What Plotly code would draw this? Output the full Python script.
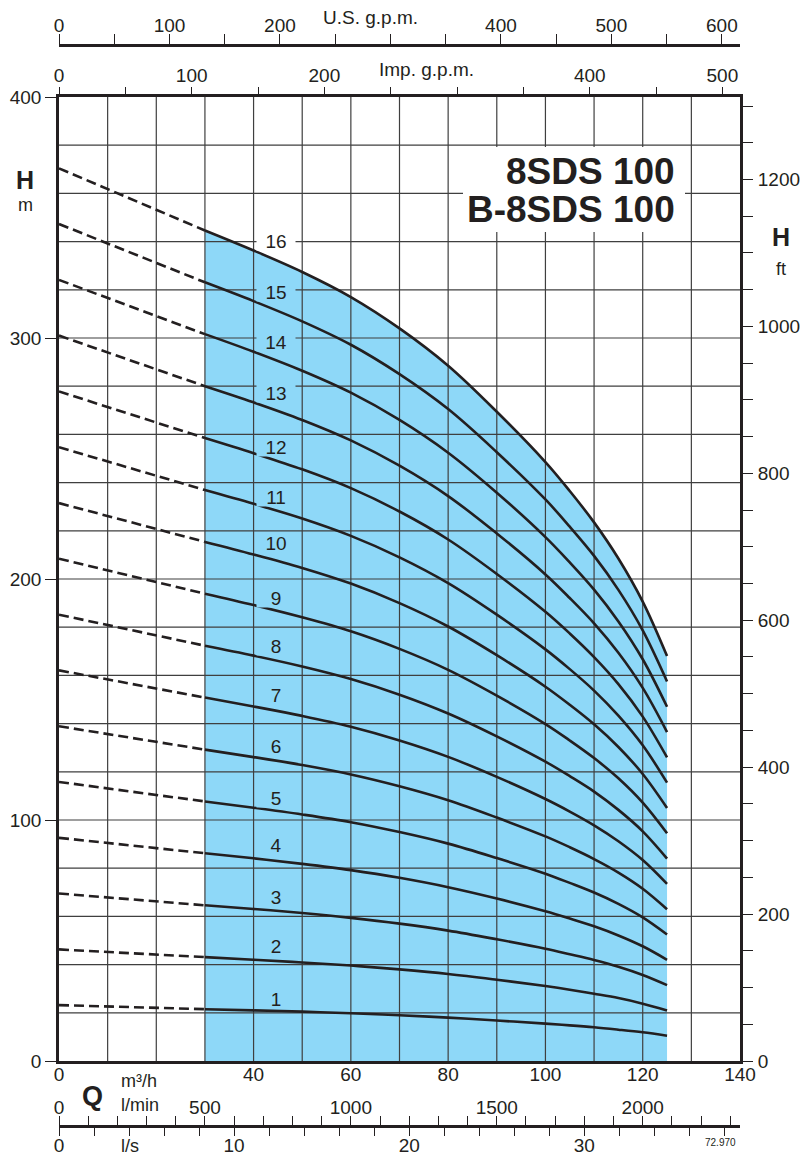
import plotly.graph_objects as go

# ---------------- data ----------------
Q_dash = [0, 30]                                   # m3/h, dashed part
Q_solid = [30, 40, 50, 60, 70, 80, 90, 100, 105, 110, 115, 120, 125]  # m3/h, solid part
stage_names = ["1", "2", "3", "4", "5", "6", "7", "8", "9", "10", "11", "12", "13", "14", "15", "16"]
H_shutoff = [23.2, 46.3, 69.5, 92.6, 115.8, 138.9, 162.1, 185.2, 208.4, 231.5,
             254.7, 277.8, 301.0, 324.1, 347.3, 370.4]   # H at Q = 0

H1 = [21.5, 21.0, 20.5, 19.8, 19.0, 18.0, 16.8, 15.5, 14.8, 14.0, 13.0, 11.9, 10.5]
H2 = [43.1, 42.0, 40.9, 39.6, 38.0, 36.1, 33.7, 31.1, 29.6, 27.9, 26.1, 23.8, 21.0]
H3 = [64.6, 63.1, 61.4, 59.4, 57.0, 54.1, 50.5, 46.6, 44.3, 41.9, 39.1, 35.7, 31.5]
H4 = [86.2, 84.1, 81.8, 79.2, 76.0, 72.1, 67.4, 62.1, 59.1, 55.9, 52.1, 47.6, 42.0]
H5 = [107.7, 105.1, 102.3, 99.1, 95.0, 90.2, 84.2, 77.7, 73.9, 69.9, 65.2, 59.6, 52.5]
H6 = [129.2, 126.1, 122.8, 118.9, 114.0, 108.2, 101.0, 93.2, 88.7, 83.8, 78.2, 71.5, 63.0]
H7 = [150.8, 147.1, 143.2, 138.7, 133.0, 126.2, 117.9, 108.7, 103.5, 97.8, 91.2, 83.4, 73.5]
H8 = [172.3, 168.2, 163.7, 158.5, 152.0, 144.2, 134.7, 124.2, 118.2, 111.8, 104.2, 95.3, 84.0]
H9 = [193.9, 189.2, 184.1, 178.3, 171.0, 162.3, 151.6, 139.8, 133.0, 125.7, 117.3, 107.2, 94.5]
H10 = [215.4, 210.2, 204.6, 198.1, 190.0, 180.3, 168.4, 155.3, 147.8, 139.7, 130.3, 119.1, 105.0]
H11 = [236.9, 231.2, 225.1, 217.9, 209.0, 198.3, 185.2, 170.8, 162.6, 153.7, 143.3, 131.0, 115.5]
H12 = [258.5, 252.2, 245.5, 237.7, 228.0, 216.4, 202.1, 186.4, 177.4, 167.6, 156.4, 142.9, 126.0]
H13 = [280.0, 273.3, 266.0, 257.5, 247.0, 234.4, 218.9, 201.9, 192.1, 181.6, 169.4, 154.8, 136.5]
H14 = [301.6, 294.3, 286.4, 277.3, 266.0, 252.4, 235.8, 217.4, 206.9, 195.6, 182.4, 166.7, 147.0]
H15 = [323.1, 315.3, 306.9, 297.2, 285.0, 270.5, 252.6, 233.0, 221.7, 209.6, 195.5, 178.7, 157.5]
H16 = [344.6, 336.3, 327.4, 317.0, 304.0, 288.5, 269.4, 248.5, 236.5, 223.5, 208.5, 190.6, 168.0]

label_H = [25.7, 47.8, 68.2, 89.6, 109.0, 130.7, 151.9, 172.2, 192.2, 215.1,
           234.2, 254.9, 277.3, 298.5, 319.2, 340.4]

x_ticks_m3h = [0, 40, 60, 80, 100, 120, 140]
y_ticks_m = [0, 100, 200, 300, 400]
y_ticks_ft = [0, 200, 400, 600, 800, 1000, 1200]
ticks_us = [0, 100, 200, 400, 500, 600]
ticks_imp = [0, 100, 200, 400, 500]
ticks_lmin = [0, 500, 1000, 1500, 2000]
ticks_ls = [0, 10, 20, 30]

curves = [H1, H2, H3, H4, H5, H6, H7, H8, H9, H10, H11, H12, H13, H14, H15, H16]

# ---------------- styling / layout ----------------
INK = "#231f20"
BLUE = "#8ED8F8"
FONT = "Liberation Sans"
W, Hgt = 803, 1158
L_PX, R_PX, T_PX, B_PX = 59, 740, 45, 1126   # paper box in pixels
PLOT_TOP, PLOT_BOT = 97, 1061

QMAX, HMAX = 140, 400
M3H_TO_USGPM = 4.4029
M3H_TO_IMPGPM = 3.6662
M3H_TO_LMIN = 1000 / 60
M3H_TO_LS = 1 / 3.6
M_TO_FT = 1 / 0.3048


def px(x):
    return (x - L_PX) / (R_PX - L_PX)


def py(y):
    return (B_PX - y) / (B_PX - T_PX)


fig = go.Figure()

# blue operating range fill
fig.add_trace(go.Scatter(x=Q_solid, y=H16, mode="lines", line=dict(width=0, shape="spline"),
                         fill="tozeroy", fillcolor=BLUE, hoverinfo="skip", showlegend=False))

# grid (drawn above the fill)
gx, gy = [], []
for q in range(10, QMAX, 10):
    gx += [q, q, None]
    gy += [0, HMAX, None]
for h in range(20, HMAX, 20):
    gx += [0, QMAX, None]
    gy += [h, h, None]
fig.add_trace(go.Scatter(x=gx, y=gy, mode="lines", line=dict(color="#3f3f3f", width=1.2),
                         hoverinfo="skip", showlegend=False))

# curves
for i, hc in enumerate(curves):
    fig.add_trace(go.Scatter(x=Q_dash, y=[H_shutoff[i], hc[0]], mode="lines",
                             line=dict(color=INK, width=2.6, dash="10px,5px"),
                             hoverinfo="skip", showlegend=False))
    fig.add_trace(go.Scatter(x=Q_solid, y=hc, mode="lines",
                             line=dict(color=INK, width=2.6, shape="spline", smoothing=1.0),
                             name=stage_names[i], showlegend=False))

# dummy traces so that the extra axes are drawn
for xa, ya in [("x2", "y"), ("x3", "y"), ("x4", "y"), ("x5", "y"), ("x", "y2")]:
    fig.add_trace(go.Scatter(x=[None], y=[None], xaxis=xa, yaxis=ya, mode="markers",
                             hoverinfo="skip", showlegend=False))

ydom = [py(PLOT_BOT), py(PLOT_TOP)]
tickfont = dict(family=FONT, size=19, color=INK)

fig.update_layout(
    width=W, height=Hgt,
    margin=dict(l=L_PX, r=W - R_PX, t=T_PX, b=Hgt - B_PX, autoexpand=False),
    paper_bgcolor="white", plot_bgcolor="white",
    showlegend=False,
    font=dict(family=FONT, color=INK),
    xaxis=dict(range=[0, QMAX], domain=[0, 1], anchor="y", tickvals=x_ticks_m3h, ticks="",
               showline=True, mirror=True, linewidth=2.6, linecolor=INK, showgrid=False,
               zeroline=False, tickfont=tickfont, automargin=False, ticklabelstandoff=-6),
    yaxis=dict(range=[0, HMAX], domain=ydom, anchor="x", tickvals=y_ticks_m, ticks="outside",
               ticklen=11, tickwidth=1.4, tickcolor=INK,
               showline=True, mirror=True, linewidth=2.6, linecolor=INK, showgrid=False,
               zeroline=False, tickfont=tickfont, automargin=False),
    yaxis2=dict(range=[0, HMAX * M_TO_FT], overlaying="y", side="right", anchor="x",
                tickvals=y_ticks_ft, ticks="outside", ticklen=12, tickwidth=1.4, tickcolor=INK,
                minor=dict(dtick=50, ticks="outside", ticklen=12, tickwidth=1.4, tickcolor=INK),
                showline=False, showgrid=False, zeroline=False, tickfont=tickfont, automargin=False,
                ticklabelstandoff=1),
    xaxis2=dict(range=[0, QMAX * M3H_TO_IMPGPM], overlaying="x", side="top", anchor="y",
                tickvals=ticks_imp, ticks="outside", ticklen=9, tickwidth=1.4, tickcolor=INK,
                minor=dict(dtick=50, ticks="outside", ticklen=9, tickwidth=1.4, tickcolor=INK),
                showline=False, showgrid=False, zeroline=False, tickfont=tickfont, automargin=False,
                ticklabelstandoff=-3),
    xaxis3=dict(range=[0, QMAX * M3H_TO_USGPM], overlaying="x", side="top", anchor="free", position=1,
                tickvals=ticks_us, ticks="outside", ticklen=10, tickwidth=1.4, tickcolor=INK,
                minor=dict(dtick=50, ticks="outside", ticklen=10, tickwidth=1.4, tickcolor=INK),
                showline=True, linewidth=2.6, linecolor=INK,
                showgrid=False, zeroline=False, tickfont=tickfont, automargin=False,
                ticklabelstandoff=-5),
    xaxis4=dict(range=[0, QMAX * M3H_TO_LMIN], overlaying="x", side="top", anchor="free", position=0,
                tickvals=ticks_lmin, ticks="outside", ticklen=9, tickwidth=1.4, tickcolor=INK,
                minor=dict(dtick=100, ticks="outside", ticklen=9, tickwidth=1.4, tickcolor=INK),
                showline=True, linewidth=2.6, linecolor=INK,
                showgrid=False, zeroline=False, tickfont=tickfont, automargin=False,
                ticklabelstandoff=-5),
    xaxis5=dict(range=[0, QMAX * M3H_TO_LS], overlaying="x", side="bottom", anchor="free", position=0,
                tickvals=ticks_ls, ticks="outside", ticklen=9, tickwidth=1.4, tickcolor=INK,
                minor=dict(dtick=2, ticks="outside", ticklen=9, tickwidth=1.4, tickcolor=INK),
                showline=False, showgrid=False, zeroline=False, tickfont=tickfont, automargin=False,
                ticklabelstandoff=-7),
)

# white box behind the title
fig.add_shape(type="rect", xref="paper", yref="paper", x0=px(463), x1=px(685), y0=py(232), y1=py(147),
              fillcolor="white", line=dict(width=0), layer="above")

ann = []


def text(x, y, s, size, bold=False, xanchor="center", **kw):
    ann.append(dict(x=px(x), y=py(y), xref="paper", yref="paper", text=(f"<b>{s}</b>" if bold else s),
                    showarrow=False, xanchor=xanchor, yanchor="middle",
                    font=dict(family=FONT, size=size, color=INK), **kw))


text(677, 172, "8SDS 100", 37, bold=True, xanchor="right")
text(677, 209, "B-8SDS 100", 37, bold=True, xanchor="right")
text(25, 180, "H", 25, bold=True)
text(25, 205, "m", 18)
text(781, 237, "H", 25, bold=True)
text(781, 269, "ft", 18)
text(370, 17, "U.S. g.p.m.", 19)
text(426, 70, "Imp. g.p.m.", 19)
text(92, 1096, "Q", 27, bold=True)
text(119, 1081, "m³/h", 18, xanchor="left")
text(119, 1105, "l/min", 18, xanchor="left")
text(119, 1146, "l/s", 18, xanchor="left")
text(720, 1142, "72.970", 10)

for i, lh in enumerate(label_H):
    bg = "white" if i == 15 else BLUE
    ann.append(dict(x=44.7, y=lh, xref="x", yref="y", text=stage_names[i], showarrow=False,
                    xanchor="center", yanchor="middle", bgcolor=bg, width=38, height=18, borderpad=0,
                    font=dict(family=FONT, size=19, color=INK)))

fig.update_layout(annotations=ann)

fig.write_html("out.html", config={"displayModeBar": False},
               post_script="document.body.style.margin='0';")
